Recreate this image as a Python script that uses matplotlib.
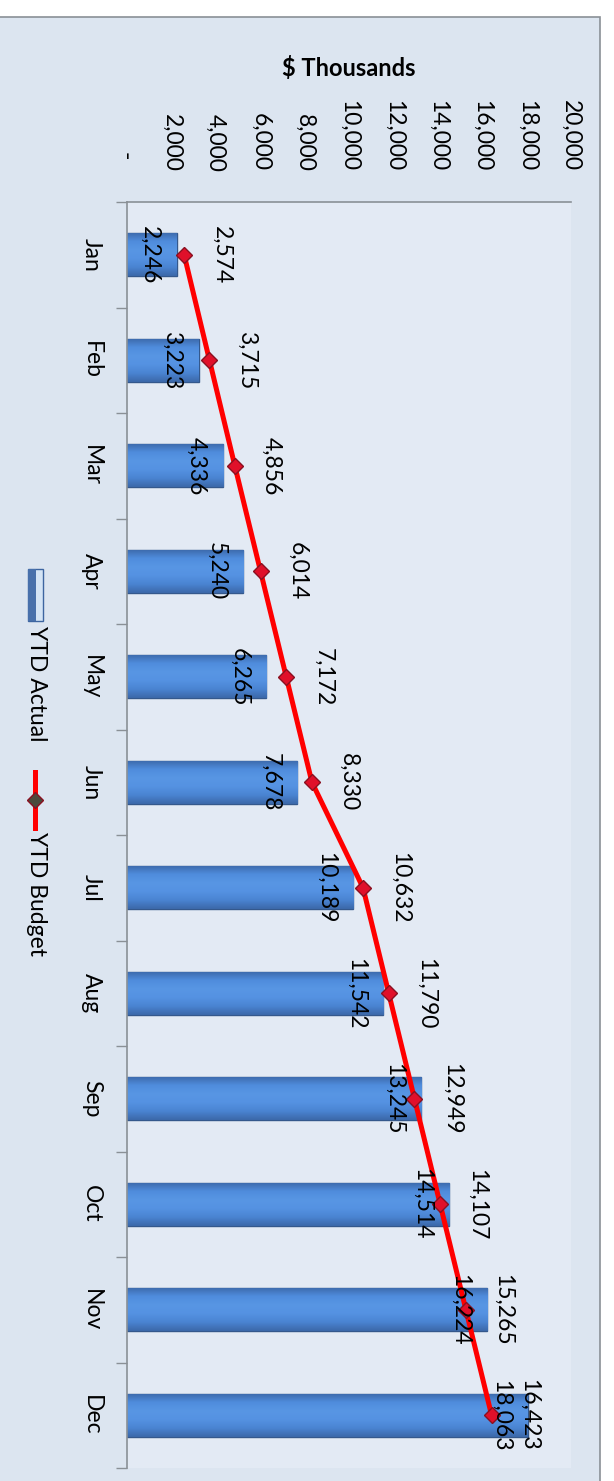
import numpy as np
import matplotlib
matplotlib.use("Agg")
import matplotlib.pyplot as plt
from matplotlib.patches import Rectangle
from matplotlib.lines import Line2D
from matplotlib.colors import LinearSegmentedColormap

# =============================================================================
# data

months = ["Jan", "Feb", "Mar", "Apr", "May", "Jun",
          "Jul", "Aug", "Sep", "Oct", "Nov", "Dec"]
ytd_actual = [2246, 3223, 4336, 5240, 6265, 7678,
              10189, 11542, 13245, 14514, 16224, 18063]
ytd_budget = [2574, 3715, 4856, 6014, 7172, 8330,
              10632, 11790, 12949, 14107, 15265, 16423]
value_ticks = [0, 2000, 4000, 6000, 8000, 10000,
               12000, 14000, 16000, 18000, 20000]
value_tick_labels = ["-  ", "2,000", "4,000", "6,000", "8,000", "10,000",
                     "12,000", "14,000", "16,000", "18,000", "20,000"]

# =============================================================================

plt.rcParams['font.family'] = ['Lato', 'DejaVu Sans']

W, H = 614, 1481
fig = plt.figure(figsize=(W / 100, H / 100), dpi=100)
fig.patch.set_facecolor('white')

# chart area frame
fig.patches.append(Rectangle((-5 / W, -0.01), 605 / W, 1 - 17 / H + 0.01,
                             transform=fig.transFigure, facecolor='#dce5f0',
                             edgecolor='#8a9096', linewidth=1.2, zorder=-10))

ax = fig.add_axes([127 / W, 1 - 1468 / H, (571 - 127) / W, (1468 - 202) / H])
ax.set_facecolor('#e3eaf4')

pos = np.arange(len(months))

# bars with a soft gradient across their width
bars = ax.barh(pos, ytd_actual, height=0.41, color='#5290de',
               edgecolor='#34588c', linewidth=1.0, zorder=2)
cmap = LinearSegmentedColormap.from_list(
    'bar', ['#3c69aa', '#4f8cdc', '#5896e4', '#5592e2', '#4a84d2', '#3c69aa'])
grad = np.linspace(0, 1, 64).reshape(-1, 1)
for b in bars:
    x0, y0 = b.get_x(), b.get_y()
    w, h = b.get_width(), b.get_height()
    im = ax.imshow(grad, cmap=cmap, aspect='auto', zorder=2.5,
                   extent=[x0, x0 + w, y0 + h, y0], interpolation='bilinear')
    im.set_clip_path(b)

ax.plot(ytd_budget, pos, color='#ff0000', linewidth=3.6, zorder=4,
        marker='D', markersize=8, markerfacecolor='#e0102a',
        markeredgecolor='#8a1020', markeredgewidth=1)

# data labels
for i in range(len(months)):
    ax.annotate(f"{ytd_actual[i]:,}", (ytd_actual[i], pos[i]),
                xytext=(-12, 0), textcoords='offset points',
                rotation=-90, ha='right', va='center', fontsize=16.5, zorder=5)
    ax.annotate(f"{ytd_budget[i]:,}", (ytd_budget[i], pos[i]),
                xytext=(19, 0), textcoords='offset points',
                rotation=-90, ha='left', va='center', fontsize=16.5, zorder=5)

ax.set_xlim(0, 20000)
ax.set_ylim(len(months) - 0.5, -0.5)

ax.xaxis.tick_top()
ax.set_xticks(value_ticks)
ax.set_xticklabels(value_tick_labels, rotation=-90, va='bottom', ha='center',
                   fontsize=16.5)
ax.tick_params(axis='x', length=0, pad=22)

ax.set_yticks(pos)
ax.set_yticklabels(months, rotation=-90, va='center', ha='right', fontsize=16.5)
ax.set_yticks(np.r_[-0.5, pos + 0.5], minor=True)
ax.tick_params(axis='y', which='major', length=0, pad=18)
ax.tick_params(axis='y', which='minor', length=8, color='#8a9096', width=1)

for s in ['right', 'bottom']:
    ax.spines[s].set_visible(False)
for s in ['top', 'left']:
    ax.spines[s].set_color('#8a9096')
    ax.spines[s].set_linewidth(1.2)

fig.text(349 / W, 1 - 68 / H, "$ Thousands", fontsize=17, fontweight='bold',
         ha='center', va='center')

# =============================================================================
# legend, drawn by hand because it is rotated

fig.patches.append(Rectangle((28 / W, 1 - 621 / H), 15 / W, 52 / H,
                             transform=fig.transFigure, facecolor='#d4e4f5',
                             edgecolor='#3d65a0', linewidth=1, zorder=3))
fig.patches.append(Rectangle((28 / W, 1 - 621 / H), 8 / W, 52 / H,
                             transform=fig.transFigure, facecolor='#4870ab',
                             edgecolor='none', zorder=3))
fig.text(36 / W, 1 - 626 / H, "YTD Actual", rotation=-90, fontsize=16.5,
         ha='center', va='top')

fig.lines.append(Line2D([35 / W, 35 / W], [1 - 772 / H, 1 - 828 / H],
                        transform=fig.transFigure, color='#ff0000',
                        linewidth=3.6, zorder=3))
fig.lines.append(Line2D([35 / W], [1 - 800 / H], transform=fig.transFigure,
                        marker='D', markersize=8, markerfacecolor='#4a4a3c',
                        markeredgecolor='#8a1020', linestyle='none', zorder=4))
fig.text(36 / W, 1 - 832 / H, "YTD Budget", rotation=-90, fontsize=16.5,
         ha='center', va='top')

plt.savefig("out.png", dpi=100)
